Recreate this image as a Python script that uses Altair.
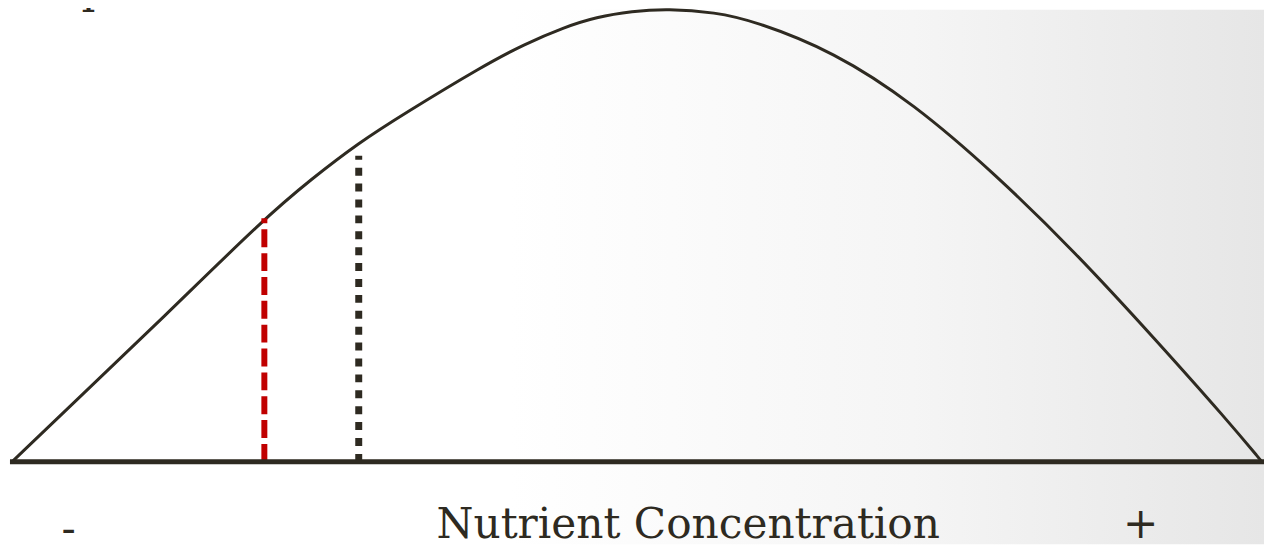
import altair as alt
import pandas as pd

# Response curve (concentration 0-100, response 0-100)
curve_x = [0, 5.485, 11.92, 20.19, 24.0, 27.74, 31.32, 37.76, 40.94, 44.2, 46.74, 49.6, 52.46, 56.28, 59.3, 65.74, 72.18, 78.62, 85.06, 91.49, 97.22, 100]
curve_y = [0, 14.51, 31.43, 53.85, 62.64, 70.55, 76.92, 87.69, 92.31, 96.15, 98.37, 99.67, 100.22, 99.41, 97.58, 90.77, 79.12, 63.74, 46.37, 27.03, 9.23, 0]

# Vertical markers
marker_x = [20.19, 27.74]
marker_top = [53.85, 67.7]

# Labels under the axis
label_text = ["-", "Nutrient Concentration", "+"]
label_x = [4.53, 54.1, 90.3]
label_y = [-18.0, -16.8, -16.8]

W, H = 1264, 538
XD = [-0.318, 100.16]
YD = [-18.24, 100]
INK = "#2e2a21"
FONT = "DejaVu Serif"

xs = alt.Scale(domain=XD, nice=False, zero=False)
ys = alt.Scale(domain=YD, nice=False, zero=False)

curve_df = pd.DataFrame({"x": curve_x, "y": curve_y})

bg = alt.Chart(alt.Data(values=[{"a": 1}])).mark_rect(
    color=alt.Gradient(
        gradient="linear",
        stops=[
            alt.GradientStop(color="#ffffff", offset=0),
            alt.GradientStop(color="#ffffff", offset=0.4),
            alt.GradientStop(color="#f5f5f5", offset=0.72),
            alt.GradientStop(color="#e6e6e6", offset=1),
        ],
        x1=0, x2=1, y1=0, y2=0,
    )
).encode(x=alt.value(0), x2=alt.value(W), y=alt.value(0), y2=alt.value(H))

curve = alt.Chart(curve_df).mark_line(
    color=INK, strokeWidth=3, interpolate="basis"
).encode(
    x=alt.X("x:Q", scale=xs, axis=None),
    y=alt.Y("y:Q", scale=ys, axis=None),
)

baseline = alt.Chart(alt.Data(values=[{"x1": -0.16, "x2": 100.16, "y": 0}])).mark_rule(
    color=INK, strokeWidth=5
).encode(
    x=alt.X("x1:Q", scale=xs, axis=None),
    x2="x2:Q",
    y=alt.Y("y:Q", scale=ys, axis=None),
)

red = alt.Chart(alt.Data(values=[{"x": marker_x[0], "y0": 0, "y1": marker_top[0]}])).mark_rule(
    color="#c00000", strokeWidth=6, strokeDash=[18, 6]
).encode(
    x=alt.X("x:Q", scale=xs, axis=None),
    y=alt.Y("y0:Q", scale=ys, axis=None),
    y2="y1:Q",
)

dotted = alt.Chart(alt.Data(values=[{"x": marker_x[1], "y0": 0, "y1": marker_top[1]}])).mark_rule(
    color=INK, strokeWidth=7, strokeDash=[8, 8]
).encode(
    x=alt.X("x:Q", scale=xs, axis=None),
    y=alt.Y("y0:Q", scale=ys, axis=None),
    y2="y1:Q",
)

labels_df = pd.DataFrame({"t": label_text, "x": label_x, "y": label_y})
labels = alt.Chart(labels_df).mark_text(
    font=FONT, fontSize=42.5, color=INK, align="center", baseline="alphabetic"
).encode(
    x=alt.X("x:Q", scale=xs, axis=None),
    y=alt.Y("y:Q", scale=ys, axis=None),
    text="t:N",
)

top_frag = alt.Chart(alt.Data(values=[{"t": "p", "x": 5.56, "y": 101.5}])).mark_text(
    font=FONT, fontSize=44, color=INK, align="left", baseline="alphabetic"
).encode(
    x=alt.X("x:Q", scale=xs, axis=None),
    y=alt.Y("y:Q", scale=ys, axis=None),
    text="t:N",
)

chart = alt.layer(bg, curve, red, dotted, baseline, labels, top_frag).properties(
    width=W, height=H, padding=0, autosize=alt.AutoSizeParams(type="none")
).configure_view(stroke=None)

chart.save("out.html", embed_options={"renderer": "svg", "actions": False})
